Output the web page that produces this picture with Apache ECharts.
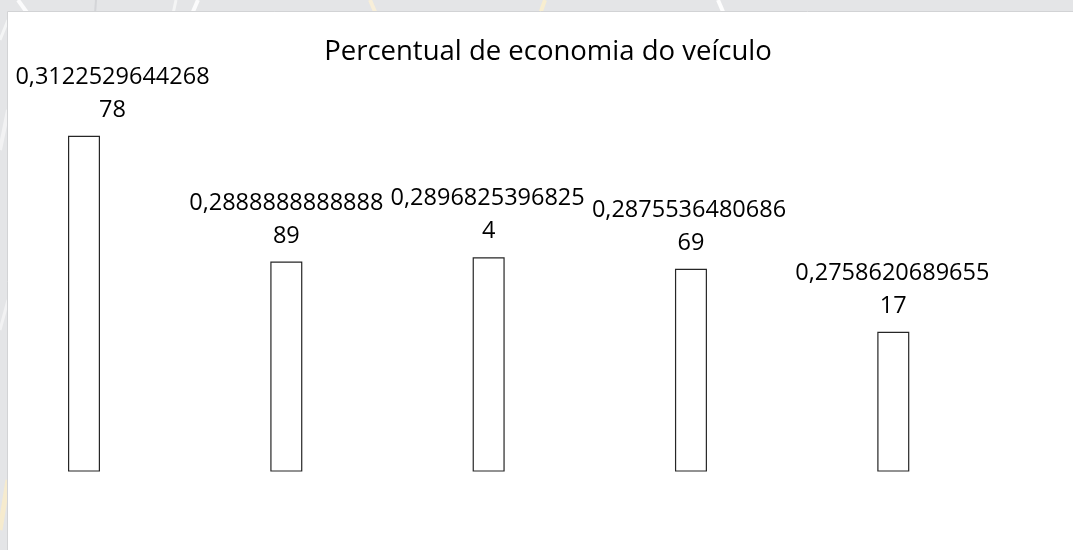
<!DOCTYPE html>
<html>
<head>
<meta charset="utf-8">
<script src="https://cdn.jsdelivr.net/npm/echarts@6/dist/echarts.min.js"></script>
<style>
  html, body { margin: 0; padding: 0; background: #e4e5e7; }
  #chart { width: 1073px; height: 550px; }
</style>
</head>
<body>
<div id="chart"></div>
<script>
// Vehicle economy percentage per vehicle
const categories = ['1', '2', '3', '4', '5'];
const economia = [0.312252964426878, 0.288888888888889, 0.28968253968254, 0.287553648068669, 0.275862068965517];
const titulo = 'Percentual de economia do veículo';

// Label text: decimal comma, wrapped after 15 characters
function splitLabel(v) {
  const s = String(v).replace('.', ',');
  return [s.slice(0, 15), s.slice(15)];
}

// horizontal nudges of the labels (whole label, first line only)
const labelOffsetX = [28.5, 0, 0, 0, 0];
const firstLineShift = [0, 0, -1, -2, -1];

const FONT = '"Open Sans", "Noto Sans", sans-serif';
const LABEL_SIZE = 23.5;

const seriesData = economia.map((v, i) => {
  const shift = firstLineShift[i];
  return {
    value: v,
    label: {
      offset: [labelOffsetX[i], 0],
      rich: {
        l1: {
          fontFamily: FONT, fontSize: LABEL_SIZE, color: '#000', lineHeight: 33,
          padding: shift < 0 ? [0, -2 * shift, 0, 0] : [0, 0, 0, 2 * shift]
        },
        l2: { fontFamily: FONT, fontSize: LABEL_SIZE, color: '#000', lineHeight: 33 }
      }
    }
  };
});

// faint streaks in the grey margin around the panel
function streak(x1, y1, x2, y2, w, color) {
  return {
    type: 'line', z: -20, silent: true,
    shape: { x1, y1, x2, y2 },
    style: { stroke: color, lineWidth: w }
  };
}

const chart = echarts.init(document.getElementById('chart'), null, { renderer: 'canvas' });
chart.setOption({
  backgroundColor: '#e4e5e7',
  animation: false,
  graphic: [
    streak(18, 0, 28, 14, 4, 'rgba(255,255,255,0.85)'),
    streak(96, 0, 95, 14, 2, 'rgba(210,211,214,0.9)'),
    streak(176, 0, 173, 14, 3, 'rgba(255,255,255,0.6)'),
    streak(198, 0, 192, 14, 4, 'rgba(255,255,255,0.85)'),
    streak(370, 0, 376, 14, 4, 'rgba(250,240,215,0.9)'),
    streak(545, 0, 540, 14, 4, 'rgba(250,238,205,0.9)'),
    streak(718, 0, 724, 14, 4, 'rgba(255,255,255,0.9)'),
    streak(0, 40, 8, 20, 3, 'rgba(255,255,255,0.6)'),
    streak(0, 150, 8, 110, 4, 'rgba(255,255,255,0.5)'),
    streak(0, 330, 8, 300, 3, 'rgba(255,255,255,0.5)'),
    streak(0, 530, 8, 480, 5, 'rgba(250,236,200,0.8)'),
    {
      type: 'rect', z: -10, silent: true,
      shape: { x: 7.5, y: 11.5, width: 1070, height: 545 },
      style: { fill: '#ffffff', stroke: '#d2d3d5', lineWidth: 1 }
    }
  ],
  title: {
    text: titulo,
    left: 543, top: 33, textAlign: 'center',
    textStyle: { fontFamily: FONT, fontSize: 27.5, fontWeight: 'normal', color: '#000' }
  },
  grid: { left: 84, right: 179.7, top: 94, bottom: 79, containLabel: false },
  xAxis: {
    type: 'category', data: categories, show: false, boundaryGap: false
  },
  yAxis: {
    type: 'value', min: 0.25, max: 0.32, show: false
  },
  series: [{
    type: 'bar',
    data: seriesData,
    barWidth: 32,
    itemStyle: { color: '#ffffff', borderColor: '#262626', borderWidth: 1.2 },
    label: {
      show: true,
      position: 'top',
      distance: 9,
      formatter: p => {
        const [a, b] = splitLabel(p.value);
        return '{l1|' + a + '}\n{l2|' + b + '}';
      }
    }
  }]
});
</script>
</body>
</html>
